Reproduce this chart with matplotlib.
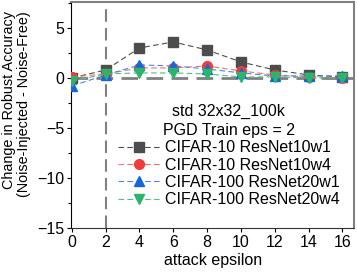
import matplotlib
matplotlib.use("Agg")
import matplotlib.pyplot as plt
from matplotlib.ticker import MultipleLocator

plt.rcParams["font.family"] = ["Liberation Sans", "DejaVu Sans"]

eps = [0, 2, 4, 6, 8, 10, 12, 14, 16]
c10_w1 = [0.0, 0.8, 3.0, 3.6, 2.8, 1.6, 0.8, 0.3, 0.1]
c10_w4 = [0.1, 0.4, 1.0, 1.0, 1.2, 0.7, 0.3, 0.1, 0.0]
c100_w1 = [-0.8, 0.3, 1.3, 1.2, 0.9, 0.5, 0.2, 0.2, 0.2]
c100_w4 = [-0.3, 0.4, 0.5, 0.5, 0.4, 0.1, 0.1, 0.0, 0.0]
labels = ["CIFAR-10 ResNet10w1", "CIFAR-10 ResNet10w4",
          "CIFAR-100 ResNet20w1", "CIFAR-100 ResNet20w4"]

FS = 11.5

fig = plt.figure(figsize=(3.57, 2.78), dpi=100)
ax = fig.add_axes([0.199, 0.18, 0.793, 0.813])

# 基準線
ax.axhline(0, color="#808080", lw=2, ls=(0, (6, 3)), zorder=1)
ax.axvline(2, color="#808080", lw=1.5, ls=(0, (6, 3)), zorder=1)

series = [
    (c10_w1, "#4d4d4d", "#4d4d4d", "s"),
    (c10_w4, "#f07070", "#f03c3c", "o"),
    (c100_w1, "#4a86e0", "#1466e0", "^"),
    (c100_w4, "#50c080", "#2eb36a", "v"),
]
for (vals, lc, mc, m), lab in zip(series, labels):
    ax.plot(eps, vals, color=lc, lw=0.8, ls=(0, (5, 3)), marker=m,
            markersize=7, markerfacecolor=mc, markeredgecolor=mc,
            label=lab, zorder=3)

ax.set_xlim(-0.05, 16.7)
ax.set_ylim(-15, 7.6)
ax.set_xticks(range(0, 17, 2))
ax.set_yticks([-15, -10, -5, 0, 5])
ax.yaxis.set_minor_locator(MultipleLocator(2.5))
ax.tick_params(axis="both", direction="out", length=3, labelsize=FS, width=0.8, pad=2)
ax.tick_params(axis="y", which="minor", direction="out", length=2, width=0.8)

for side in ["top", "right"]:
    ax.spines[side].set_color("#808080")
    ax.spines[side].set_linewidth(1.5)
ax.spines["left"].set_color("black")
ax.spines["bottom"].set_color("#333333")

ax.set_xlabel("attack epsilon", fontsize=FS, labelpad=2)
ax.set_ylabel("Change in Robust Accuracy\n(Noise-Injected - Noise-Free)",
              fontsize=10.4, linespacing=1.05, multialignment="right")
ax.yaxis.set_label_coords(-0.142, 0.55)

leg = ax.legend(title="std 32x32_100k\nPGD Train eps = 2", loc="lower right",
                bbox_to_anchor=(0.965, 0.07), frameon=False, fontsize=FS,
                title_fontsize=FS, handlelength=2.6, handletextpad=0.3,
                labelspacing=0.15, borderaxespad=0.2, borderpad=0.1)
leg.get_title().set_multialignment("center")
leg.get_title().set_linespacing(1.35)

fig.savefig("out.png", dpi=100)
